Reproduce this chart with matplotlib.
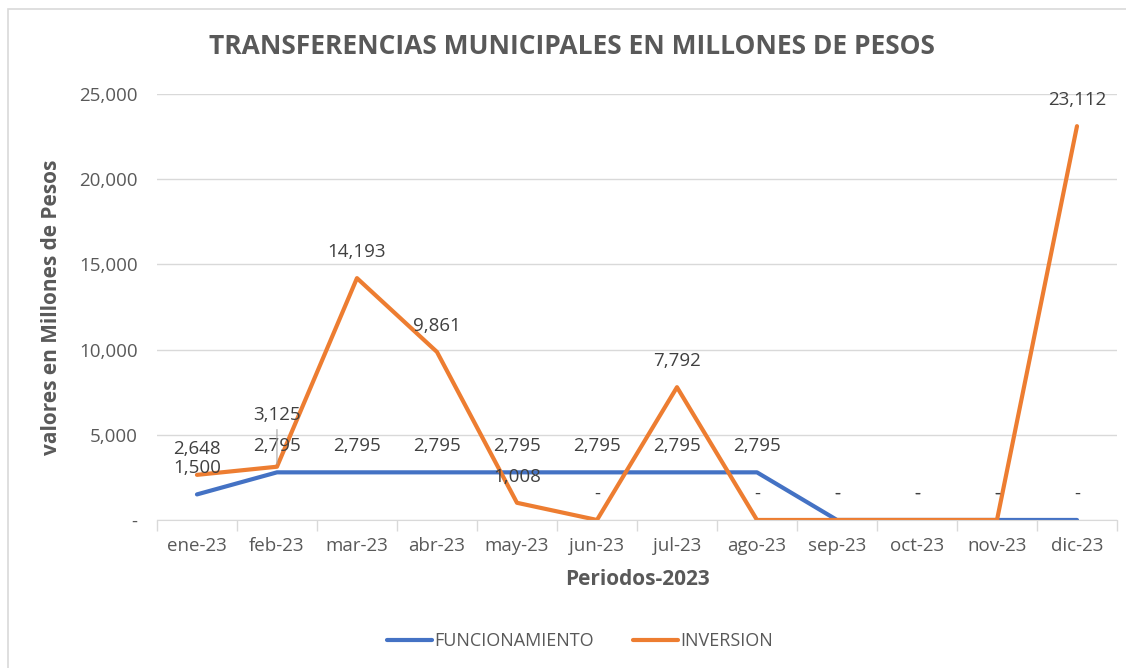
import matplotlib.pyplot as plt
from matplotlib.patches import Rectangle
import numpy as np

# Datos
meses = ['ene-23', 'feb-23', 'mar-23', 'abr-23', 'may-23', 'jun-23',
         'jul-23', 'ago-23', 'sep-23', 'oct-23', 'nov-23', 'dic-23']
funcionamiento = [1500, 2795, 2795, 2795, 2795, 2795, 2795, 2795, 0, 0, 0, 0]
inversion = [2648, 3125, 14193, 9861, 1008, 0, 7792, 0, 0, 0, 0, 23112]

azul = '#4472C4'
naranja = '#ED7D31'
gris = '#595959'

plt.rcParams['font.family'] = ['Open Sans', 'DejaVu Sans']

fig = plt.figure(figsize=(11.26, 6.68), dpi=100)
ax = fig.add_axes([0.1394, 0.2216, 0.8526, 0.6377])

x = np.arange(len(meses))
ax.plot(x, funcionamiento, color=azul, lw=3, label='FUNCIONAMIENTO', solid_capstyle='round')
ax.plot(x, inversion, color=naranja, lw=3, label='INVERSION', solid_capstyle='round')


def etiqueta(v):
    return '-' if v == 0 else f'{v:,.0f}'


for i, v in enumerate(funcionamiento):
    ax.annotate(etiqueta(v), (i, v), xytext=(0, 26), textcoords='offset pixels',
                ha='center', va='center', fontsize=13.5, color='#404040')
for i, v in enumerate(inversion):
    dy = 52 if i == 1 else 26
    ax.annotate(etiqueta(v), (i, v), xytext=(0, dy), textcoords='offset pixels',
                ha='center', va='center', fontsize=13.5, color='#404040')
# linea guia de la etiqueta de feb
ax.annotate('', xy=(1, inversion[1]), xytext=(0, 40), textcoords='offset pixels',
            arrowprops=dict(arrowstyle='-', color='#a6a6a6', lw=0.8))

ax.set_xlim(-0.5, len(meses) - 0.5)
ax.set_ylim(0, 25000)
ax.set_yticks(np.arange(0, 25001, 5000))
ax.set_yticklabels(['-'] + [f'{t:,.0f}' for t in range(5000, 25001, 5000)])
ax.set_xticks(x)
ax.set_xticklabels(meses)
ax.set_xticks(np.arange(-0.5, len(meses), 1), minor=True)
ax.tick_params(axis='x', which='major', length=0, pad=12, labelsize=13.5, labelcolor=gris)
ax.tick_params(axis='x', which='minor', length=8, color='#d9d9d9', width=1)
ax.tick_params(axis='y', length=0, pad=14, labelsize=13.5, labelcolor=gris)
ax.grid(axis='y', color='#d9d9d9', lw=1)
ax.set_axisbelow(True)
for s in ['top', 'right', 'left']:
    ax.spines[s].set_visible(False)
ax.spines['bottom'].set_color('#d9d9d9')

ax.set_xlabel('Periodos-2023', fontsize=15, fontweight='bold', color=gris, labelpad=10)
ax.set_ylabel('valores en Millones de Pesos', fontsize=15, fontweight='bold', color=gris, labelpad=12)
fig.text(0.508, 0.93, 'TRANSFERENCIAS MUNICIPALES EN MILLONES DE PESOS',
         ha='center', va='center', fontsize=19, fontweight='bold', color=gris)

fig.legend(loc='center', bbox_to_anchor=(0.515, 0.04), ncol=2, frameon=False,
           fontsize=13, labelcolor=gris, handlelength=2.5, columnspacing=2.2, handletextpad=0.1)

fig.patches.append(Rectangle((0.007, -0.01), 1.0, 0.997, transform=fig.transFigure,
                             fill=False, edgecolor='#d9d9d9', lw=1.2))

plt.savefig('out.png', dpi=100)
